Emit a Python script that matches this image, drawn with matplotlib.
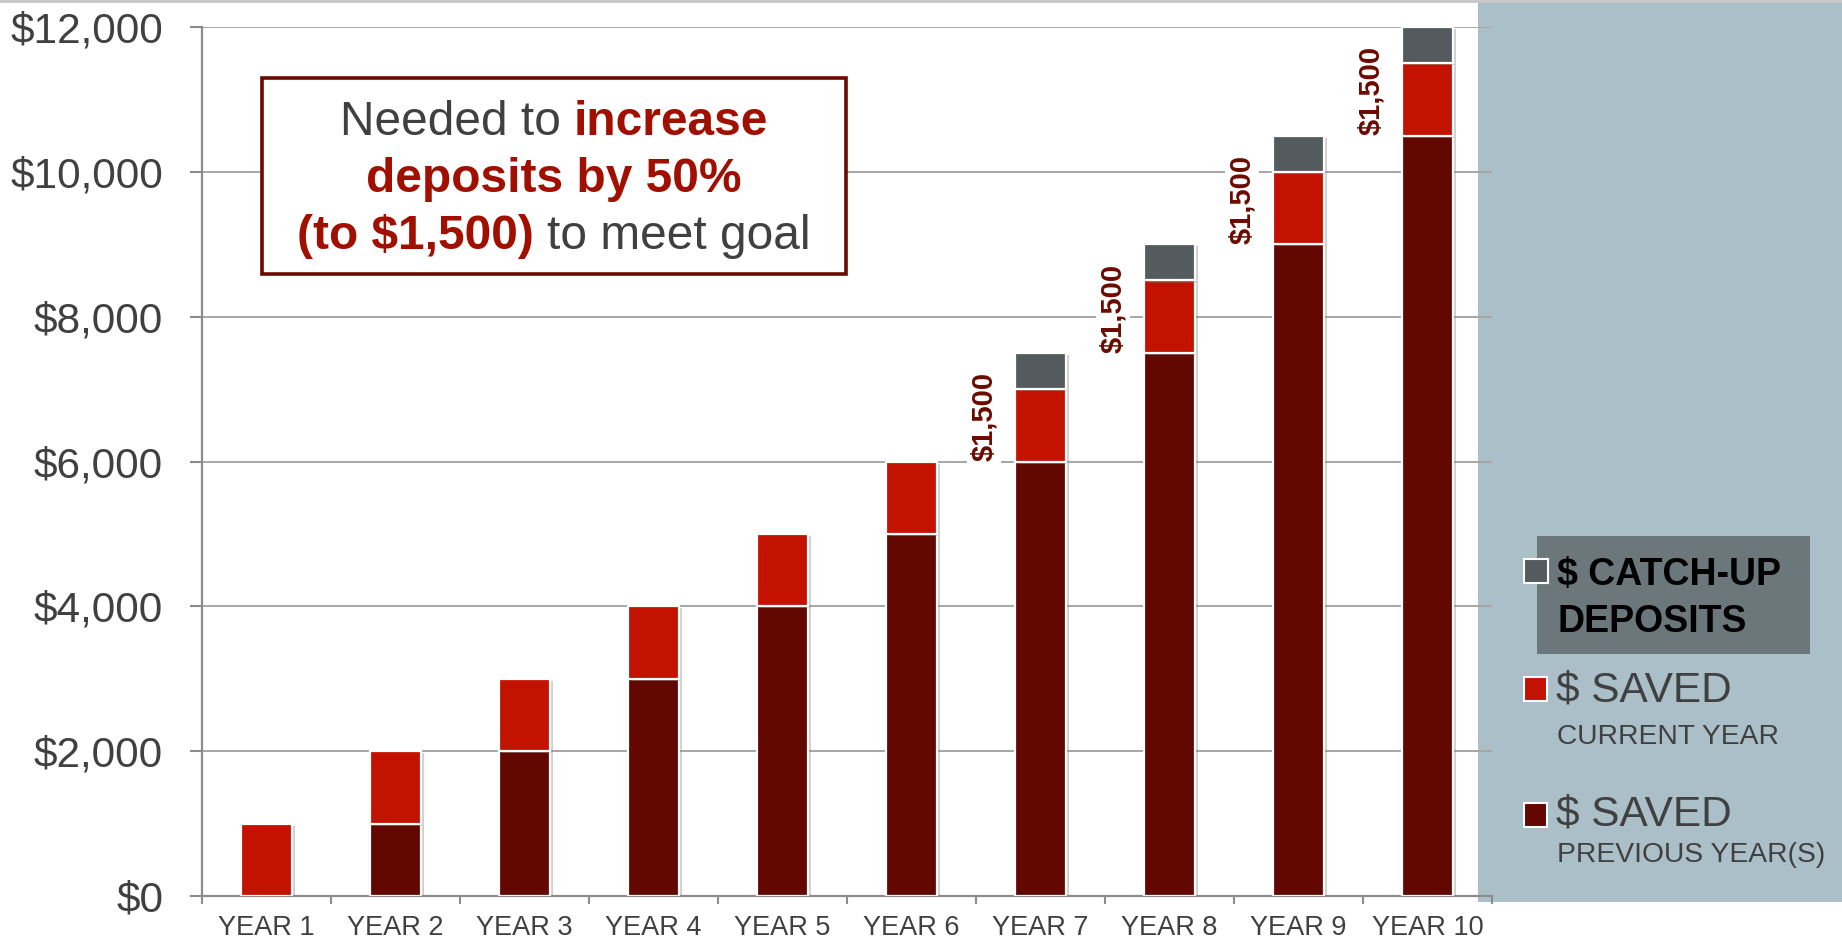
import matplotlib
matplotlib.use("Agg")
import matplotlib.pyplot as plt
import matplotlib.patheffects as pe
from matplotlib.patches import Rectangle
import numpy as np

# ---- data -------------------------------------------------------------
years = ["YEAR 1", "YEAR 2", "YEAR 3", "YEAR 4", "YEAR 5",
         "YEAR 6", "YEAR 7", "YEAR 8", "YEAR 9", "YEAR 10"]
saved_previous = [0, 1000, 2000, 3000, 4000, 5000, 6000, 7500, 9000, 10500]
saved_current = [1000, 1000, 1000, 1000, 1000, 1000, 1000, 1000, 1000, 1000]
catch_up = [0, 0, 0, 0, 0, 0, 500, 500, 500, 500]
y_ticks = [0, 2000, 4000, 6000, 8000, 10000, 12000]

# ---- style --------------------------------------------------------------
DARK = "#620800"
RED = "#C41200"
CATCH = "#535B5E"
PANEL = "#ABBFC9"
LEG_BOX = "#6C777C"
TEXT = "#404040"
AXIS = "#8C8C8C"
GRID = "#A6A6A6"
LABEL_RED = "#6B0A00"
NOTE_RED = "#A00F00"

plt.rcParams["font.family"] = ["Liberation Sans", "DejaVu Sans"]

W, H, DPI = 1842, 940, 100
fig = plt.figure(figsize=(W / DPI, H / DPI), dpi=DPI)
fig.patch.set_facecolor("white")


def fx(px):
    return px / W


def fy(py):
    return 1 - py / H


def fig_rect(x0, y0, x1, y1, **kw):
    r = Rectangle((fx(x0), fy(y1)), fx(x1) - fx(x0), fy(y0) - fy(y1),
                  transform=fig.transFigure, **kw)
    fig.patches.append(r)
    return r


# thin rule along the top and the side panel for the key
fig_rect(0, 0, W, 2.5, facecolor="#C8C8C8", edgecolor="none", zorder=0)
fig_rect(1478, 3, W, 902, facecolor=PANEL, edgecolor="none", zorder=0)

# ---- axes ---------------------------------------------------------------
ax = fig.add_axes([fx(202), fy(896), fx(1492) - fx(202), fy(27) - fy(896)])
ax.set_facecolor("none")
ax.set_zorder(1)

x = np.arange(len(years))
prev = np.array(saved_previous, dtype=float)
cur = np.array(saved_current, dtype=float)
cu = np.array(catch_up, dtype=float)

bar_w = 0.39
shadow = [pe.SimplePatchShadow(offset=(2.5, -1.5), shadow_rgbFace="#7a7a7a", alpha=0.35),
          pe.Normal()]
common = dict(width=bar_w, edgecolor="white", linewidth=1.6, zorder=3, path_effects=shadow)

m = prev > 0
ax.bar(x[m], prev[m], color=DARK, **common)
ax.bar(x, cur, bottom=prev, color=RED, **common)
m = cu > 0
ax.bar(x[m], cu[m], bottom=(prev + cur)[m], color=CATCH, **common)

# value labels for the raised deposits (current + catch-up)
for i in np.where(cu > 0)[0]:
    total = cur[i] + cu[i]
    ax.text(x[i] - 0.44, prev[i] + 0.62 * cur[i], f"${total:,.0f}",
            rotation=90, ha="center", va="center", fontsize=21,
            fontweight="bold", color=LABEL_RED, zorder=4,
            bbox=dict(facecolor="white", edgecolor="none", pad=2))

ax.set_xlim(-0.5, len(years) - 0.5)
ax.set_ylim(0, 12000)

ax.set_yticks(y_ticks)
ax.set_yticklabels([f"${v:,}" for v in y_ticks])
ax.tick_params(axis="y", length=8.6, width=1.5, color=AXIS, pad=19.4,
               labelsize=30.5, labelcolor=TEXT)

ax.set_xticks(np.arange(-0.5, len(years), 1.0))
ax.set_xticklabels([])
ax.tick_params(axis="x", which="major", length=5.8, width=1.5, color=AXIS)
ax.set_xticks(x, minor=True)
ax.set_xticklabels(years, minor=True)
ax.tick_params(axis="x", which="minor", length=0, pad=14, labelsize=19.5,
               labelcolor=TEXT)

ax.yaxis.grid(True, color=GRID, linewidth=1.4)
ax.set_axisbelow(True)
for side in ("top", "right"):
    ax.spines[side].set_visible(False)
for side in ("left", "bottom"):
    ax.spines[side].set_color(AXIS)
    ax.spines[side].set_linewidth(1.6)

# ---- call-out box -------------------------------------------------------
fig_rect(262, 78, 846, 274, facecolor="white", edgecolor="#6B0A00",
         linewidth=2.6, zorder=5)

renderer = fig.canvas.get_renderer()


def space_width(size, weight):
    a = fig.text(0, 0, "a a", fontsize=size, fontweight=weight)
    b = fig.text(0, 0, "aa", fontsize=size, fontweight=weight)
    w = a.get_window_extent(renderer).width - b.get_window_extent(renderer).width
    a.remove()
    b.remove()
    return w


def rich_line(segments, cx, baseline, size, zorder=6):
    texts, widths = [], []
    for s, color, weight in segments:
        t = fig.text(0, fy(baseline), s, color=color, fontweight=weight,
                     fontsize=size, va="baseline", ha="left", zorder=zorder)
        texts.append(t)
        widths.append(t.get_window_extent(renderer).width)
    gap = space_width(size, "normal")
    total = sum(widths) + gap * (len(texts) - 1)
    pos = cx - total / 2
    for t, w in zip(texts, widths):
        t.set_x(fx(pos))
        pos += w + gap


note_size = 34.5
cx = 554
rich_line([("Needed to", TEXT, "normal"), ("increase", NOTE_RED, "bold")],
          cx, 135, note_size)
rich_line([("deposits by 50%", NOTE_RED, "bold")], cx, 192, note_size)
rich_line([("(to $1,500)", NOTE_RED, "bold"), ("to meet goal", TEXT, "normal")],
          cx, 249, note_size)

# ---- key ----------------------------------------------------------------
fig_rect(1537, 536, 1810, 654, facecolor=LEG_BOX, edgecolor="none", zorder=2)
fig_rect(1524, 559, 1548, 583, facecolor=CATCH, edgecolor="white",
         linewidth=1.5, zorder=3)
fig_rect(1524, 677, 1547, 701, facecolor=RED, edgecolor="white",
         linewidth=1.5, zorder=3)
fig_rect(1524, 803, 1547, 827, facecolor=DARK, edgecolor="white",
         linewidth=1.5, zorder=3)

fig.text(fx(1557), fy(585), "$ CATCH-UP", fontsize=27, fontweight="bold",
         color="black", va="baseline", zorder=4)
fig.text(fx(1557), fy(632), "DEPOSITS", fontsize=27, fontweight="bold",
         color="black", va="baseline", zorder=4)
fig.text(fx(1556), fy(701), "$ SAVED", fontsize=30.5, color=TEXT,
         va="baseline", zorder=4)
fig.text(fx(1557), fy(744), "CURRENT YEAR", fontsize=20.3, color=TEXT,
         va="baseline", zorder=4)
fig.text(fx(1556), fy(826), "$ SAVED", fontsize=30.5, color=TEXT,
         va="baseline", zorder=4)
fig.text(fx(1557), fy(862), "PREVIOUS YEAR(S)", fontsize=20.3, color=TEXT,
         va="baseline", zorder=4)

fig.savefig("out.png", dpi=DPI, facecolor="white")
